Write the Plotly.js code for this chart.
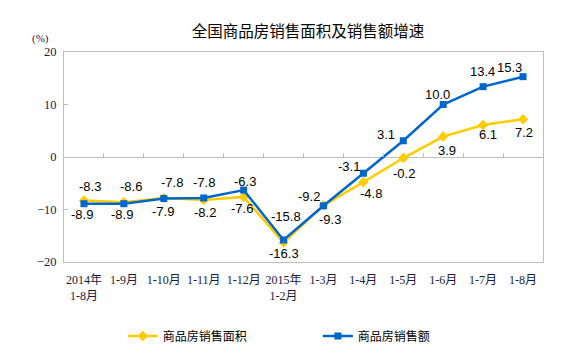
<!DOCTYPE html>
<html><head><meta charset="utf-8">
<script src="https://cdn.plot.ly/plotly-3.0.1.min.js"></script>
<style>html,body{margin:0;padding:0;background:#fff}#c{width:585px;height:361px}</style>
</head><body><div id="c"></div>
<script>
const categories = ['2014年<br>1-8月','1-9月','1-10月','1-11月','1-12月','2015年<br>1-2月','1-3月','1-4月','1-5月','1-6月','1-7月','1-8月'];
const areaName = '商品房销售面积';
const amountName = '商品房销售额';
const areaValues = [-8.3,-8.6,-7.8,-8.2,-7.6,-16.3,-9.2,-4.8,-0.2,3.9,6.1,7.2];
const amountValues = [-8.9,-8.9,-7.9,-7.8,-6.3,-15.8,-9.3,-3.1,3.1,10.0,13.4,15.3];
const yTicks = [-20,-10,0,10,20];
// label offsets in pixels [dx, dy(up)]
const areaLabelShift = [[6,14],[7,16],[8,15],[1,-12],[-2,-12],[0,-11],[-14,9],[8,-11],[1,-15],[4,-14],[5,-10],[1,-13]];
const amountLabelShift = [[-2,-11],[-2,-11],[-1,-13],[0,15],[1,9],[2,23],[7,-14],[-14,7],[-17,6],[-6,10],[-1,15],[-14,9]];

const yellow = '#FFCC00', blue = '#0066CC', grey = '#BFBFBF';
const labelFont = {family:'"Liberation Sans", Arial, sans-serif', size:13, color:'#000'};

const traces = [
  {x:categories, y:areaValues, name:areaName, type:'scatter', mode:'lines+markers',
   line:{color:yellow, width:2.5}, marker:{symbol:'diamond', size:8, color:yellow}},
  {x:categories, y:amountValues, name:amountName, type:'scatter', mode:'lines+markers',
   line:{color:blue, width:2.5}, marker:{symbol:'square', size:7, color:blue}},
  {x:[null], y:[null], xaxis:'x2', yaxis:'y', type:'scatter', mode:'none', showlegend:false, hoverinfo:'skip'}
];

const annotations = [];
function addLabels(vals, shifts){
  vals.forEach((v,i)=>{
    annotations.push({x:categories[i], y:v, xref:'x', yref:'y', text:v.toFixed(1), showarrow:false,
      xshift:shifts[i][0], yshift:shifts[i][1], font:labelFont});
  });
}
addLabels(areaValues, areaLabelShift);
addLabels(amountValues, amountLabelShift);
annotations.push({xref:'paper', yref:'paper', x:-0.071, y:1.105, text:'(%)', showarrow:false,
  font:{family:'"Liberation Serif", "Noto Sans CJK SC", serif', size:11, color:'#1a1a40'}});

const layout = {
  width:585, height:361,
  margin:{l:64, r:42, t:52, b:99},
  paper_bgcolor:'#fff', plot_bgcolor:'#fff',
  title:{text:'全国商品房销售面积及销售额增速', x:308/585, xanchor:'center', y:1-32/361, yanchor:'middle',
    font:{family:'"Noto Sans CJK SC", sans-serif', size:15.5, color:'#000'}},
  showlegend:true,
  legend:{orientation:'h', xref:'container', yref:'container', x:0.21, y:1-336/361, xanchor:'left', yanchor:'middle',
    entrywidth:150, entrywidthmode:'pixels', itemwidth:30,
    font:{family:'"Noto Sans CJK SC", sans-serif', size:12, color:'#000'}},
  xaxis:{type:'category', showline:true, mirror:true, linecolor:grey, linewidth:1, ticks:'', showgrid:false,
    zeroline:false, range:[-0.5,11.5], ticklabelstandoff:7,
    tickfont:{family:'"Liberation Serif", "Noto Sans CJK SC", serif', size:12, color:'#1a1a40'}},
  xaxis2:{overlaying:'x', anchor:'free', position:0.5, side:'bottom', range:[-0.5,11.5], tick0:0.5, dtick:1,
    ticks:'inside', ticklen:4, tickcolor:grey, tickwidth:1, showticklabels:false, showline:false, showgrid:false, zeroline:false},
  yaxis:{range:[-20,20], tickvals:yTicks, showline:true, mirror:true, linecolor:grey, linewidth:1,
    ticks:'inside', ticklen:4, tickcolor:grey, showgrid:false, zeroline:true, zerolinecolor:grey, zerolinewidth:1,
    ticklabelstandoff:4,
    tickfont:{family:'"Liberation Serif", serif', size:12.5, color:'#1a1a40'}},
  annotations:annotations
};
Plotly.newPlot('c', traces, layout, {staticPlot:true, displayModeBar:false});
</script></body></html>
